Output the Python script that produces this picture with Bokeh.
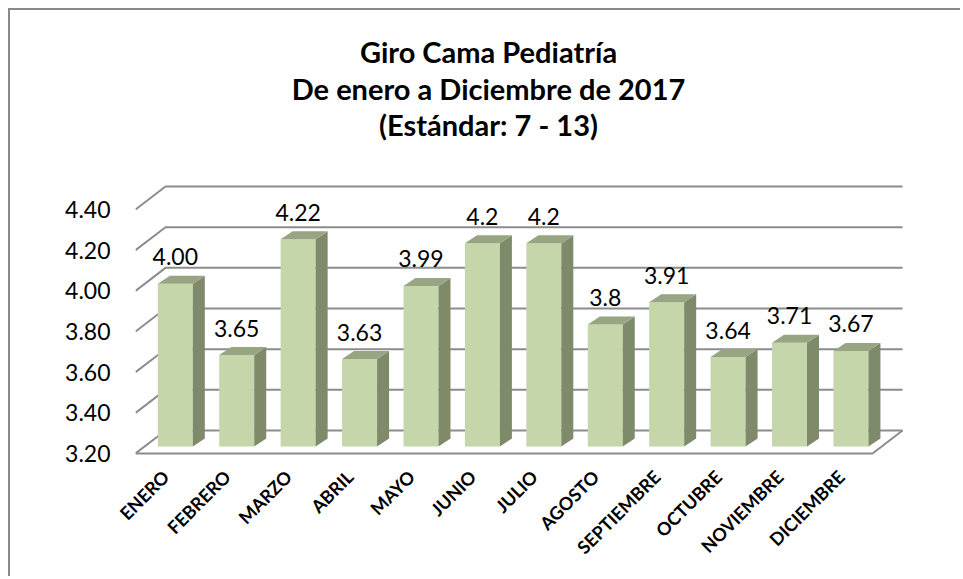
import math
from bokeh.plotting import figure
from bokeh.models import Range1d, FixedTicker, Label, ColumnDataSource, NumeralTickFormatter
from bokeh.layouts import column
from bokeh.embed import file_html
from bokeh.resources import INLINE
from bokeh.core.properties import value

# ---------------- data ----------------
months = ["ENERO", "FEBRERO", "MARZO", "ABRIL", "MAYO", "JUNIO", "JULIO",
          "AGOSTO", "SEPTIEMBRE", "OCTUBRE", "NOVIEMBRE", "DICIEMBRE"]
giro = [4.00, 3.65, 4.22, 3.63, 3.99, 4.2, 4.2, 3.8, 3.91, 3.64, 3.71, 3.67]
giro_labels = ["4.00", "3.65", "4.22", "3.63", "3.99", "4.2", "4.2", "3.8",
               "3.91", "3.64", "3.71", "3.67"]
y_ticks = [3.20, 3.40, 3.60, 3.80, 4.00, 4.20, 4.40]
title_lines = ["Giro Cama Pediatría", "De enero a Diciembre de 2017", "(Estándar: 7 - 13)"]

# ---------------- layout constants ----------------
W, H = 950, 566            # figure size (placed at 10,10 inside margin + border)
PX, PY = 61.42, 203.3      # pixels per category / per value unit
MB_LEFT = 125              # frame starts at window x = 135
FRAME_H = 450              # frame spans window y 10..460
MB_BOTTOM = H - FRAME_H
FRAME_W = W - MB_LEFT
BOTTOM_PAD = 7             # px between front floor line and frame bottom

DXB, DYB = 30 / PX, 23 / PY      # depth of the back wall
DXF, DYF = 9.1 / PX, 7 / PY      # depth of the bar front plane
DDX, DDY = 12 / PX, 8 / PY       # bar depth
BAR_W = 35 / PX

n = len(months)
base_v = y_ticks[0]

p = figure(width=W, height=H, output_backend="svg", toolbar_location=None,
           x_range=Range1d(0, FRAME_W / PX),
           y_range=Range1d(base_v - BOTTOM_PAD / PY, base_v + (FRAME_H - BOTTOM_PAD) / PY),
           min_border_left=MB_LEFT, min_border_right=0, min_border_top=0,
           min_border_bottom=MB_BOTTOM)
p.outline_line_color = None
p.grid.visible = False
p.background_fill_color = "white"
p.border_fill_color = "white"

GRID_COLOR = "#8c8c8c"

# wall gridlines (side diagonal + back line)
grid_xs = [[0, DXB, n + DXB] for v in y_ticks]
grid_ys = [[v, v + DYB, v + DYB] for v in y_ticks]
p.multi_line(grid_xs, grid_ys, line_color=GRID_COLOR, line_width=2)
# floor front edge
p.line([0, n, n + DXB], [base_v, base_v, base_v + DYB], line_color=GRID_COLOR, line_width=2)

# bars
xl = [i + DXF + (1 - BAR_W) / 2 for i in range(n)]
xr = [x + BAR_W for x in xl]
tops = [v + DYF for v in giro]
bottoms = [base_v + DYF] * n
p.quad(left=xl, right=xr, bottom=bottoms, top=tops, fill_color="#c5d6aa", line_color=None)
side_xs = [[r, r + DDX, r + DDX, r] for r in xr]
side_ys = [[b, b + DDY, t + DDY, t] for b, t in zip(bottoms, tops)]
p.patches(side_xs, side_ys, fill_color="#7f8a6a", line_color=None)
top_xs = [[l, r, r + DDX, l + DDX] for l, r in zip(xl, xr)]
top_ys = [[t, t, t + DDY, t + DDY] for t in tops]
p.patches(top_xs, top_ys, fill_color="#98a583", line_color=None)

# data labels
lab_src = ColumnDataSource(dict(x=[(l + r) / 2 for l, r in zip(xl, xr)],
                                y=[t + DDY for t in tops], text=giro_labels))
p.text(x="x", y="y", text="text", source=lab_src, text_align="center",
       text_baseline="alphabetic", y_offset=-19, text_font=value("Lato"),
       text_font_size="23px", text_color="black")

# axes
p.yaxis.ticker = FixedTicker(ticks=y_ticks)
p.yaxis.formatter = NumeralTickFormatter(format="0.00")
p.yaxis.axis_line_color = None
p.yaxis.major_tick_line_color = None
p.yaxis.minor_tick_line_color = None
p.yaxis.major_tick_out = 0
p.yaxis.major_tick_in = 0
p.yaxis.major_label_standoff = 25
p.yaxis.major_label_text_font = "Lato"
p.yaxis.major_label_text_font_size = "23px"
p.yaxis.major_label_text_color = "black"

x_ticks = [i + 0.49 for i in range(n)]
p.xaxis.ticker = FixedTicker(ticks=x_ticks)
p.xaxis.major_label_overrides = {t: m for t, m in zip(x_ticks, months)}
p.xaxis.major_label_orientation = math.pi / 4
p.xaxis.axis_line_color = None
p.xaxis.major_tick_line_color = None
p.xaxis.minor_tick_line_color = None
p.xaxis.major_tick_out = 0
p.xaxis.major_tick_in = 0
p.xaxis.major_label_standoff = 13
p.xaxis.major_label_text_font = "Lato"
p.xaxis.major_label_text_font_style = "bold"
p.xaxis.major_label_text_font_size = "18px"
p.xaxis.major_label_text_color = "black"

# title (three lines; baselines given in window pixels, converted to data)
def win_y(ypix):
    return base_v + (453 - ypix) / PY

title_baselines = [51, 88, 124]
for txt, yb in zip(title_lines, title_baselines):
    p.add_layout(Label(x=(488 - 135) / PX, y=win_y(yb), text=txt, text_align="center",
                       text_baseline="alphabetic", text_font="Lato", text_font_style="bold",
                       text_font_size="29px", text_color="black"))

layout = column(p, styles={"margin-left": "8px", "margin-top": "8px",
                           "border-top": "2px solid #898989",
                           "border-left": "2px solid #898989"})

open("out.html", "w").write(file_html(layout, INLINE))
